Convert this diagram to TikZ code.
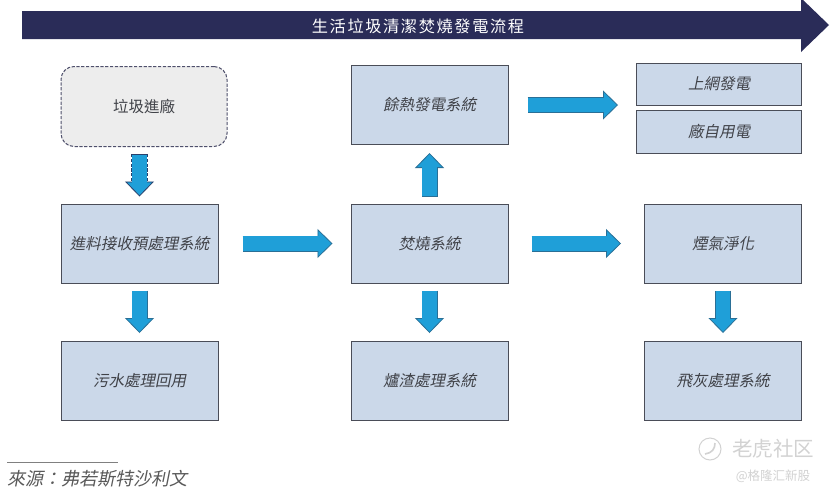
\documentclass[tikz,border=0pt]{standalone}
\usepackage{fontspec}
\setmainfont{Noto Sans CJK TC}
\newfontfamily\cjkit[FakeSlant=0.2]{Noto Sans CJK TC}
\newfontfamily\cjktitle[LetterSpace=10]{Noto Sans CJK TC}
\usetikzlibrary{arrows.meta,calc}
\definecolor{bannerblue}{HTML}{2A2C58}
\definecolor{boxblue}{HTML}{CBD8E9}
\definecolor{boxedge}{HTML}{4A4D58}
\definecolor{boxtext}{HTML}{404248}
\definecolor{arrowblue}{HTML}{1F9FD8}
\definecolor{arrowedge}{HTML}{2A6F96}
\definecolor{markgray}{HTML}{D2D2D2}
\tikzset{
  sysbox/.style={draw=boxedge, line width=1pt, fill=boxblue, text=boxtext, minimum width=157pt, minimum height=79pt, inner sep=0pt, font=\cjkit\fontsize{15.5}{18}\selectfont},
  outbox/.style={sysbox, minimum width=165pt},
  blockarrow/.style 2 args={draw=arrowedge, line width=16pt, shorten <=#1, shorten >=#2,
    -{Triangle[length=15pt, width=29pt, line width=0.8pt, fill=arrowblue]},
    postaction={draw=arrowblue, solid, line width=14.4pt, -, shorten <=#1+0.8pt, shorten >=#2+13pt}},
  dashedarrow/.style 2 args={blockarrow={#1}{#2}, draw=bannerblue!70!arrowedge, line width=17pt, dash pattern=on 3.2pt off 1.6pt},
}
\begin{document}
\begin{tikzpicture}[x=1pt, y=-1pt]
\useasboundingbox (0,0) rectangle (830,496);
\fill[white] (0,0) rectangle (830,496);
% banner
\fill[bannerblue] (22,11) -- (801,11) -- (801,-2) -- (829,25) -- (801,52) -- (801,39) -- (22,39) -- cycle;
\node[text=white, font=\cjktitle\fontsize{16.2}{18}\selectfont] (title) at (418,26) {生活垃圾清潔焚燒發電流程};
% left column
\node[draw=bannerblue!80!black!80, dash pattern=on 3.2pt off 1.6pt, line width=1pt, fill=black!7, rounded corners=13pt, minimum width=166pt, minimum height=80pt, text=boxtext, font=\fontsize{15.5}{18}\selectfont] (waste) at (144,106.5) {垃圾進廠};
\node[sysbox] (feed) at (139.5,243.5) {進料接收預處理系統};
\node[sysbox] (sewage) at (139.5,381) {污水處理回用};
% middle column
\node[sysbox] (heat) at (429.5,105) {餘熱發電系統};
\node[sysbox] (burn) at (429.5,243.5) {焚燒系統};
\node[sysbox] (slag) at (429.5,381) {爐渣處理系統};
% right column
\node[outbox, minimum height=42pt] (grid) at (719,84) {上網發電};
\node[outbox, minimum height=43pt] (plant) at (719,131.5) {廠自用電};
\node[sysbox] (smoke) at (723,243.5) {煙氣淨化};
\node[sysbox] (ash) at (723,381) {飛灰處理系統};
% arrows
\draw[dashedarrow={7pt}{7pt}] (waste.south -| feed.south) -- (feed.north);
\draw[blockarrow={24pt}{18pt}] (feed.east) -- (burn.west);
\draw[blockarrow={23pt}{23pt}] (burn.east) -- (smoke.west);
\draw[blockarrow={7pt}{8pt}] (burn.north) -- (heat.south);
\draw[blockarrow={19pt}{18pt}] (heat.east) -- (heat.east -| grid.west);
\draw[blockarrow={7pt}{8pt}] (feed.south) -- (sewage.north);
\draw[blockarrow={7pt}{8pt}] (burn.south) -- (slag.north);
\draw[blockarrow={7pt}{8pt}] (smoke.south) -- (ash.north);
% source
\coordinate (ruleleft) at (7,462);
\coordinate (ruleright) at (118,462);
\draw[draw=black!50, line width=1pt] (ruleleft) -- (ruleright);
\node[anchor=west, inner sep=0pt, text=black!65, font=\cjkit\fontsize{18}{20}\selectfont] (source) at (7,478.5) {來源：弗若斯特沙利文};
% watermark
\node[circle, draw=markgray, line width=1pt, minimum size=22pt, inner sep=0pt] (logo) at (710,449) {};
\draw[markgray, line width=1.6pt] ([shift={(-5,5)}]logo.center) .. controls ([shift={(2,4)}]logo.center) and ([shift={(5,0)}]logo.center) .. ([shift={(5,-6)}]logo.center);
\node[text=markgray, font=\fontsize{20.5}{22}\selectfont] (tiger) at (773,449) {老虎社区};
\node[text=markgray, font=\fontsize{12.5}{14}\selectfont] (glh) at (773,476.5) {@格隆汇新股};
\end{tikzpicture}
\end{document}
